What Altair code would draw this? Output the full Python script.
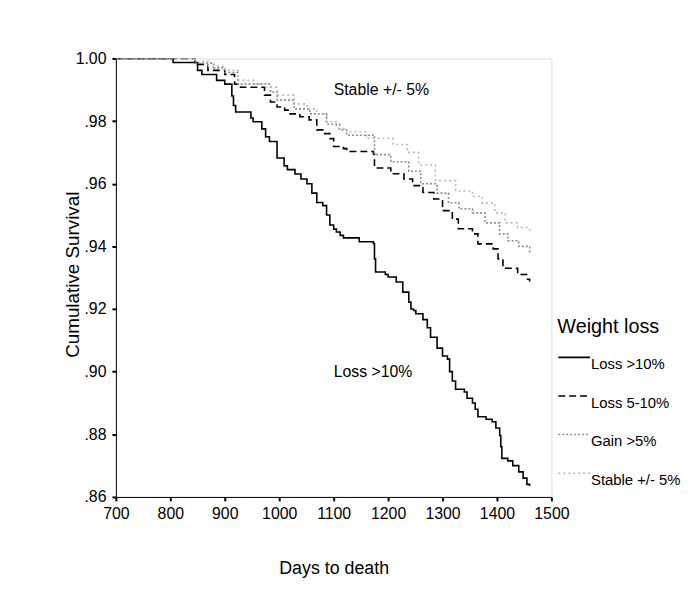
import altair as alt
import pandas as pd

FONT = "Liberation Sans"

groups = ["Loss >10%", "Loss 5-10%", "Gain >5%", "Stable +/- 5%"]

loss10_days = [700, 805, 850, 858, 885, 900, 913, 916, 920, 948, 952, 968, 975, 982, 996,
               1009, 1015, 1029, 1040, 1051, 1060, 1069, 1080, 1087, 1093, 1100, 1105, 1112,
               1118, 1147, 1173, 1175, 1177, 1195, 1200, 1215, 1227, 1238, 1242, 1247, 1251,
               1264, 1272, 1278, 1290, 1300, 1309, 1313, 1318, 1324, 1340, 1345, 1355, 1360,
               1365, 1380, 1391, 1398, 1405, 1407, 1409, 1420, 1429, 1440, 1448, 1455, 1460]
loss10_surv = [1.0, 0.9987, 0.9962, 0.9949, 0.9930, 0.9918, 0.9880, 0.9850, 0.9829, 0.9810,
               0.9798, 0.9775, 0.9750, 0.9735, 0.9682, 0.9657, 0.9645, 0.9631, 0.9615, 0.9600,
               0.9570, 0.9540, 0.9530, 0.9500, 0.9468, 0.9455, 0.9446, 0.9435, 0.9427, 0.9415,
               0.9409, 0.9360, 0.9318, 0.9310, 0.9302, 0.9286, 0.9254, 0.9222, 0.9200, 0.9195,
               0.9185, 0.9166, 0.9140, 0.9110, 0.9075, 0.9050, 0.9040, 0.9000, 0.8970, 0.8944,
               0.8935, 0.8915, 0.8900, 0.8880, 0.8856, 0.8848, 0.8840, 0.8820, 0.8796, 0.8760,
               0.8723, 0.8715, 0.8700, 0.8680, 0.8660, 0.8640, 0.8635]

loss5_days = [700, 845, 869, 900, 918, 929, 973, 984, 996, 1010, 1020, 1038, 1055, 1069, 1080,
              1093, 1100, 1118, 1124, 1173, 1175, 1205, 1229, 1245, 1264, 1284, 1300, 1318,
              1329, 1355, 1365, 1393, 1402, 1411, 1438, 1456, 1460]
loss5_surv = [1.0, 0.9981, 0.9962, 0.9949, 0.9918, 0.9908, 0.9883, 0.9861, 0.9845, 0.9835,
              0.9823, 0.9814, 0.9804, 0.9772, 0.9760, 0.9744, 0.9719, 0.9712, 0.9703, 0.9695,
              0.9650, 0.9632, 0.9615, 0.9594, 0.9572, 0.9551, 0.9514, 0.9487, 0.9456, 0.9440,
              0.9408, 0.9392, 0.9360, 0.9330, 0.9310, 0.9295, 0.9288]

gain_days = [700, 845, 880, 900, 924, 984, 996, 1027, 1056, 1087, 1111, 1124, 1173, 1175,
             1205, 1238, 1260, 1290, 1311, 1330, 1355, 1378, 1405, 1420, 1440, 1460]
gain_surv = [1.0, 0.9985, 0.9970, 0.9955, 0.9918, 0.9893, 0.9867, 0.9839, 0.9823, 0.9790,
             0.9772, 0.9755, 0.9750, 0.9693, 0.9670, 0.9640, 0.9600, 0.9570, 0.9539, 0.9520,
             0.9507, 0.9475, 0.9440, 0.9418, 0.9400, 0.9380]

stable_days = [700, 845, 870, 900, 924, 955, 973, 996, 1027, 1051, 1069, 1087, 1105, 1124,
               1160, 1209, 1235, 1256, 1287, 1324, 1355, 1373, 1396, 1415, 1438, 1460]
stable_surv = [1.0, 0.9990, 0.9975, 0.9962, 0.9930, 0.9918, 0.9908, 0.9883, 0.9855, 0.9839,
               0.9823, 0.9798, 0.9776, 0.9766, 0.9745, 0.9725, 0.9700, 0.9660, 0.9610, 0.9577,
               0.9560, 0.9538, 0.9507, 0.9475, 0.9460, 0.9444]

x_ticks = [700, 800, 900, 1000, 1100, 1200, 1300, 1400, 1500]
y_ticks = [0.86, 0.88, 0.90, 0.92, 0.94, 0.96, 0.98, 1.00]

annot_text = ["Stable +/- 5%", "Loss >10%"]
annot_days = [1100, 1100]
annot_surv = [0.990, 0.900]

rows = []
for g, ds, ss in zip(groups,
                     [loss10_days, loss5_days, gain_days, stable_days],
                     [loss10_surv, loss5_surv, gain_surv, stable_surv]):
    for d, s in zip(ds, ss):
        rows.append({"group": g, "days": d, "surv": s})
df = pd.DataFrame(rows)
ann = pd.DataFrame({"text": annot_text, "days": annot_days, "surv": annot_surv})

xscale = alt.Scale(domain=[700, 1500], nice=False, zero=False)
yscale = alt.Scale(domain=[0.86, 1.0], nice=False, zero=False)

xaxis = alt.Axis(values=x_ticks, format="d", grid=False, title="Days to death",
                 labelFont=FONT, labelFontSize=16, labelColor="black", labelPadding=5,
                 labelFlush=False, labelOverlap=False,
                 tickColor="black", tickSize=4, tickWidth=2, domainColor="black",
                 titleFont=FONT, titleFontSize=18, titleFontWeight="normal", titleColor="black",
                 titleX=220, titleY=72, titleBaseline="middle")
yaxis = alt.Axis(values=y_ticks, grid=False, title="Cumulative Survival",
                 labelExpr="datum.value >= 1 ? format(datum.value, '.2f') : slice(format(datum.value, '.2f'), 1)",
                 labelFont=FONT, labelFontSize=16, labelColor="black", labelPadding=6,
                 labelFlush=False, labelOverlap=False,
                 tickColor="black", tickSize=4, tickWidth=2, domainColor="black",
                 titleFont=FONT, titleFontSize=19, titleFontWeight="normal", titleColor="black",
                 titleX=-44, titleY=218, titleBaseline="middle")

legend = alt.Legend(title="Weight loss", orient="none", legendX=446, legendY=261,
                    symbolType="stroke", symbolSize=1024, symbolStrokeWidth=1.5,
                    labelFont=FONT, labelFontSize=15, labelColor="black", labelOffset=0,
                    labelBaseline="top", labelLimit=300,
                    titleFont=FONT, titleFontSize=20, titleFontWeight="normal",
                    titleColor="black", titlePadding=4, rowPadding=7)

lines = alt.Chart(df).mark_line(interpolate="step-after", clip=True).encode(
    x=alt.X("days:Q", scale=xscale, axis=xaxis),
    y=alt.Y("surv:Q", scale=yscale, axis=yaxis),
    color=alt.Color("group:N", sort=groups,
                    scale=alt.Scale(domain=groups, range=["#000000", "#000000", "#8c8c8c", "#b8b8b8"]),
                    legend=legend),
    strokeDash=alt.StrokeDash("group:N", sort=groups,
                              scale=alt.Scale(domain=groups, range=[[1, 0], [7, 4], [2, 2], [2, 3]]),
                              legend=legend),
    strokeWidth=alt.StrokeWidth("group:N", sort=groups,
                                scale=alt.Scale(domain=groups, range=[1.6, 1.6, 1.1, 1.1]),
                                legend=None),
    order=alt.Order("group:N"),
)

labels = alt.Chart(ann).mark_text(font=FONT, fontSize=16, align="left", baseline="middle",
                                  color="black").encode(
    x=alt.X("days:Q", scale=xscale),
    y=alt.Y("surv:Q", scale=yscale),
    text="text:N",
)

chart = alt.layer(lines, labels).properties(
    width=440, height=443,
    padding={"left": 109, "top": 48, "right": 138, "bottom": 85},
    autosize="none",
).configure_view(stroke="black", strokeWidth=1).configure(background="white")

chart.save("out.html", embed_options={"renderer": "svg", "actions": False})
